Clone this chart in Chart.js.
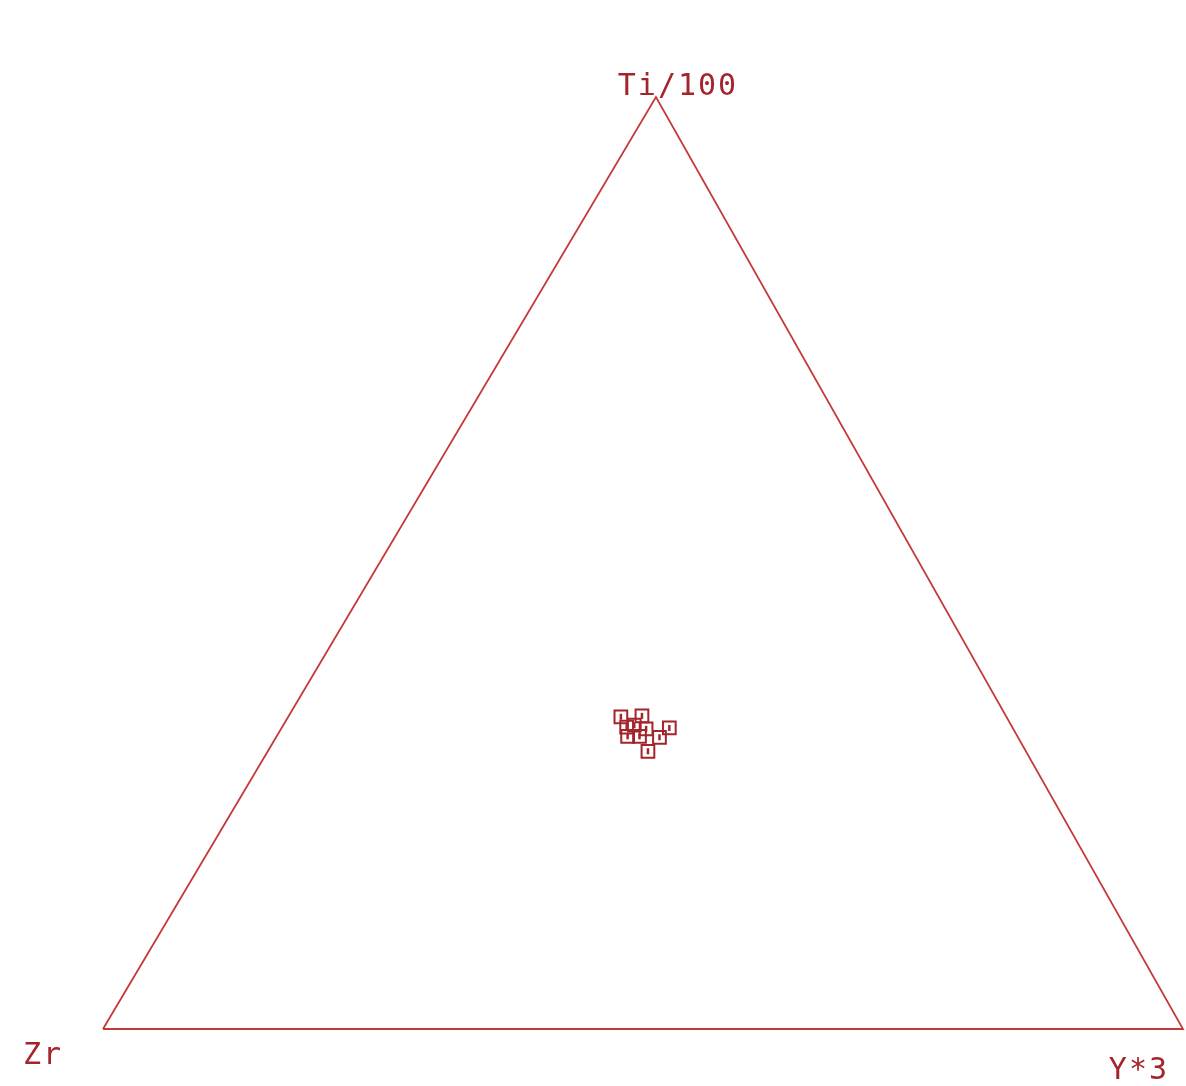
<!DOCTYPE html>
<html>
<head>
<meta charset="utf-8">
<script src="https://cdn.jsdelivr.net/npm/chart.js@4"></script>
<style>
  html, body { margin: 0; padding: 0; background: #fff; }
  #wrap { position: relative; width: 1186px; height: 1086px; }
</style>
</head>
<body>
<div id="wrap"><canvas id="ternaryChart"></canvas></div>
<script>
// ternary compositions of the samples, in percent
const zrPct = [35.7, 33.7, 35.7, 34.0, 31.8, 36.1, 35.0, 33.2, 35.0, 34.9];
const tiPct = [33.5, 33.6, 32.4, 32.2, 32.3, 31.4, 31.4, 31.3, 29.8, 32.6];
const y3Pct = [30.8, 32.7, 31.9, 33.8, 35.9, 32.5, 33.6, 35.5, 35.2, 32.5];
const cornerLabels = ['Zr', 'Y*3', 'Ti/100'];

// the plotted triangle leans a little: apex sits right of the base midpoint
const APEX_X = 0.512;
const red = '#c43a3a';
const darkRed = '#a3252b';

function toXY(z, y, t) {
  const s = z + y + t;
  return { x: (y + t * APEX_X) / s, y: t / s };
}

const samples = zrPct.map((z, i) => toXY(z, y3Pct[i], tiPct[i]));
const corners = [toXY(100, 0, 0), toXY(0, 100, 0), toXY(0, 0, 100)];
const outline = [corners[0], corners[1], corners[2], corners[0]];

const labelPlugin = {
  id: 'cornerLabels',
  afterDraw(chart) {
    const ctx = chart.ctx;
    const xs = chart.scales.x, ys = chart.scales.y;
    ctx.save();
    ctx.fillStyle = darkRed;
    ctx.font = '30px "DejaVu Sans Mono"';
    ctx.letterSpacing = '2px';
    ctx.textBaseline = 'alphabetic';
    const pos = corners.map(c => ({ x: xs.getPixelForValue(c.x), y: ys.getPixelForValue(c.y) }));
    ctx.textAlign = 'left';
    ctx.fillText(cornerLabels[0], pos[0].x - 80, pos[0].y + 35);
    ctx.textAlign = 'right';
    ctx.fillText(cornerLabels[1], pos[1].x - 14, pos[1].y + 50);
    ctx.textAlign = 'center';
    ctx.fillText(cornerLabels[2], pos[2].x + 22, pos[2].y - 2);
    ctx.restore();
  }
};

new Chart(document.getElementById('ternaryChart').getContext('2d'), {
  type: 'scatter',
  data: {
    datasets: [
      {
        label: 'outline',
        data: outline,
        showLine: true,
        borderColor: red,
        borderWidth: 1.8,
        pointRadius: 0,
        clip: false,
        order: 3
      },
      {
        label: 'samples',
        data: samples,
        pointStyle: 'rect',
        pointRadius: 9,
        borderColor: darkRed,
        backgroundColor: 'rgba(0,0,0,0)',
        borderWidth: 2,
        clip: false,
        order: 2
      },
      {
        label: 'sample ticks',
        data: samples,
        pointStyle: 'line',
        rotation: 90,
        pointRadius: 3,
        borderColor: darkRed,
        borderWidth: 2.5,
        clip: false,
        order: 1
      }
    ]
  },
  options: {
    responsive: true,
    maintainAspectRatio: false,
    animation: false,
    layout: { autoPadding: false, padding: { left: 103, right: 3, top: 97, bottom: 57 } },
    plugins: {
      legend: { display: false },
      tooltip: { enabled: false }
    },
    scales: {
      x: { type: 'linear', min: 0, max: 1, display: false },
      y: { type: 'linear', min: 0, max: 1, display: false }
    }
  },
  plugins: [labelPlugin]
});
</script>
</body>
</html>
